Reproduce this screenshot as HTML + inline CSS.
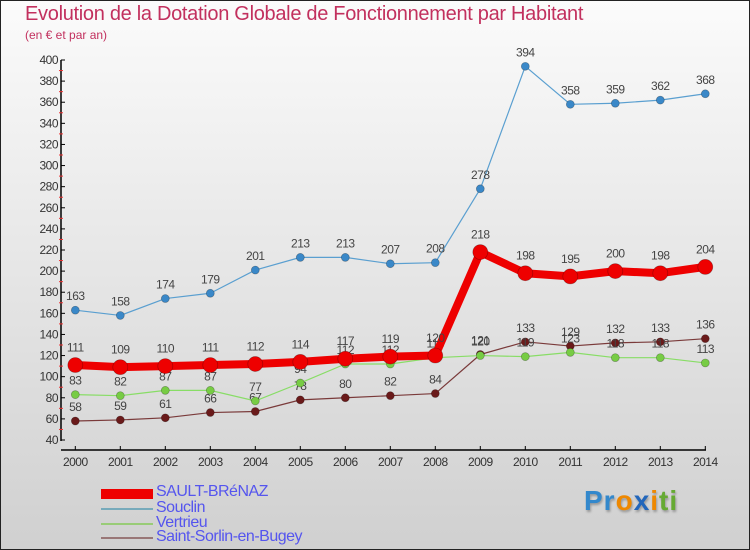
<!DOCTYPE html>
<html><head><meta charset="utf-8"><style>
body{margin:0;}
#wrap{position:relative;width:748px;height:548px;border:1px solid #222;background:linear-gradient(#fbfbfb,#d0d0d0);overflow:hidden;font-family:"Liberation Sans",sans-serif;}
.t{position:absolute;white-space:nowrap;}
</style></head><body>
<div id="wrap">
<div class="t" style="left:24px;top:2px;font-size:20px;color:#c2305e;letter-spacing:-0.3px">Evolution de la Dotation Globale de Fonctionnement par Habitant</div>
<div class="t" style="left:24px;top:27px;font-size:12px;color:#c2305e">(en € et par an)</div>
<svg id="svg" width="750" height="550" style="position:absolute;left:-1px;top:-1px"></svg>
<div class="t" style="left:100px;top:484px">
 <div style="position:relative;height:16px"><span style="position:absolute;left:0;top:4px;width:52px;height:10px;background:#e00"></span><span style="position:absolute;left:55px;top:-2px;font-size:16px;color:#55e;letter-spacing:-0.5px">SAULT-BRéNAZ</span></div>
 <div style="position:relative;height:16px"><span style="position:absolute;left:0;top:7px;width:52px;height:2px;background:#7ab"></span><span style="position:absolute;left:55px;top:-2px;font-size:16px;color:#55e;letter-spacing:-0.5px">Souclin</span></div>
 <div style="position:relative;height:15px"><span style="position:absolute;left:0;top:6px;width:52px;height:2px;background:#9c7"></span><span style="position:absolute;left:55px;top:-3px;font-size:16px;color:#55e;letter-spacing:-0.5px">Vertrieu</span></div>
 <div style="position:relative;height:15px"><span style="position:absolute;left:0;top:5px;width:52px;height:2px;background:#977"></span><span style="position:absolute;left:55px;top:-4px;font-size:16px;color:#55e;letter-spacing:-0.5px">Saint-Sorlin-en-Bugey</span></div>
</div>
<div class="t" style="left:583px;top:484px;font-size:28px;font-weight:bold;letter-spacing:1px;text-shadow:1px 2px 2px #999"><span style="color:#38c">Pr</span><span style="color:#e80">o</span><span style="color:#26b">x</span><span style="color:#e80">i</span><span style="color:#6a3">ti</span></div>
</div>
<script>
const years=[2000,2001,2002,2003,2004,2005,2006,2007,2008,2009,2010,2011,2012,2013,2014];
const sault=[111,109,110,111,112,114,117,119,120,218,198,195,200,198,204];
const souclin=[163,158,174,179,201,213,213,207,208,278,394,358,359,362,368];
const vertrieu=[83,82,87,87,77,94,112,112,118,120,119,123,118,118,113];
const sorlin=[58,59,61,66,67,78,80,82,84,121,133,129,132,133,136];
const yTicks=[40,60,80,100,120,140,160,180,200,220,240,260,280,300,320,340,360,380,400];
const NS="http://www.w3.org/2000/svg";
const svg=document.getElementById('svg');
const X=i=>75.3+i*45;
const Y=v=>440-(v-40)*380/360;
function el(t,a){const e=document.createElementNS(NS,t);for(const k in a)e.setAttribute(k,a[k]);svg.appendChild(e);return e;}
let ax=el('line',{x1:61,y1:60,x2:61,y2:441,stroke:'#000','stroke-width':1.5});

let bx=el('line',{x1:61,y1:450,x2:706,y2:450,stroke:'#000','stroke-width':1.5});

yTicks.forEach((v,i)=>{
 el('line',{x1:61,x2:65,y1:Y(v),y2:Y(v),stroke:'#000'});
 if(i<yTicks.length-1)el('line',{x1:59,x2:63,y1:Y(v+10),y2:Y(v+10),stroke:'#e33'});
 let t=el('text',{x:58,y:Y(v)+4,'text-anchor':'end','font-size':12,fill:'#333','letter-spacing':'-0.5'});t.textContent=v;
 
});
years.forEach((y,i)=>{
 el('line',{x1:X(i),x2:X(i),y1:446,y2:450,stroke:'#000'});
 let t=el('text',{x:X(i),y:466,'text-anchor':'middle','font-size':12,fill:'#333','letter-spacing':'-0.5'});t.textContent=y;
 
});
function series(d,name,col,w,r,dot){
 let p=el('polyline',{points:d.map((v,i)=>X(i)+','+Y(v)).join(' '),fill:'none',stroke:col,'stroke-width':w,'stroke-linejoin':'round'});
 
 d.forEach((v,i)=>{
  let c=el('circle',{cx:X(i),cy:Y(v),r:r,fill:dot,stroke:'rgba(0,0,0,0.3)','stroke-width':0.7});
  
  let t=el('text',{x:X(i),y:Y(v)-(r+6),'text-anchor':'middle','font-size':12,fill:'#444','letter-spacing':'-0.5'});t.textContent=v;
  
 });
}
series(sorlin,'saint-sorlin','#7a3a3a',1.2,4,'#6a1a1a');
series(vertrieu,'vertrieu','#8d6',1.2,4,'#7c4');
series(souclin,'souclin','#5a9fd0',1.2,4,'#3a88c8');
series(sault,'sault-brenaz','#e00',8,7.5,'#e00');
</script>
</body></html>
